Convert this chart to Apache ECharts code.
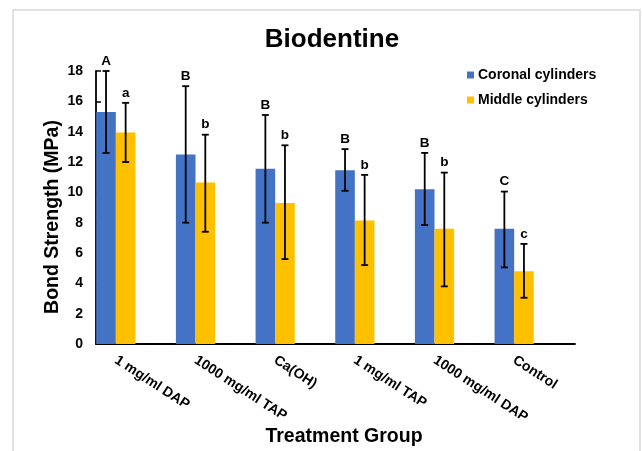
<!DOCTYPE html>
<html>
<head>
<meta charset="utf-8">
<script src="https://cdn.jsdelivr.net/npm/echarts@6/dist/echarts.min.js"></script>
<style>html,body{margin:0;padding:0;background:#fff}#c{width:642px;height:451px}</style>
</head>
<body>
<div id="c"></div>
<script>
var categories = ['1 mg/ml DAP', '1000 mg/ml TAP', 'Ca(OH)', '1 mg/ml TAP', '1000 mg/ml DAP', 'Control'];
var coronal = [15.3, 12.5, 11.55, 11.45, 10.2, 7.6];
var coronalLow = [12.6, 8.0, 8.0, 10.1, 7.85, 5.05];
var coronalHigh = [18.0, 17.0, 15.1, 12.85, 12.6, 10.05];
var coronalLetters = ['A', 'B', 'B', 'B', 'B', 'C'];
var middle = [13.95, 10.65, 9.3, 8.15, 7.6, 4.8];
var middleLow = [12.0, 7.4, 5.6, 5.2, 3.8, 3.05];
var middleHigh = [15.9, 13.8, 13.1, 11.15, 11.3, 6.6];
var middleLetters = ['a', 'b', 'b', 'b', 'b', 'c'];
var yTicks = [0, 2, 4, 6, 8, 10, 12, 14, 16, 18];

var FONT = "'Liberation Sans', Arial, sans-serif";
var BW = 19.6;

function errRows(lo, hi) {
  return lo.map(function (v, i) { return [i, v, hi[i]]; });
}
function errRender(offset, letters) {
  return function (params, api) {
    var i = api.value(0);
    var x = api.coord([i, 0])[0] + offset;
    var yl = api.coord([i, api.value(1)])[1];
    var yh = api.coord([i, api.value(2)])[1];
    var st = { stroke: '#000', lineWidth: 1.8 };
    return {
      type: 'group',
      children: [
        { type: 'line', shape: { x1: x, y1: yh, x2: x, y2: yl }, style: st },
        { type: 'line', shape: { x1: x - 3.5, y1: yh, x2: x + 3.5, y2: yh }, style: st },
        { type: 'line', shape: { x1: x - 3.5, y1: yl, x2: x + 3.5, y2: yl }, style: st },
        { type: 'text', style: { x: x, y: yh - 3, text: letters[params.dataIndex], fill: '#000',
            font: 'bold 13.5px ' + FONT, textAlign: 'center', textVerticalAlign: 'bottom' } }
      ]
    };
  };
}

var chart = echarts.init(document.getElementById('c'));
chart.setOption({
  backgroundColor: '#fff',
  animation: false,
  textStyle: { fontFamily: FONT },
  title: {
    text: 'Biodentine', left: 327, top: 22, textAlign: 'center',
    textStyle: { fontSize: 26, fontWeight: 'bold', color: '#000', fontFamily: FONT }
  },
  legend: {
    data: ['Coronal cylinders', 'Middle cylinders'],
    orient: 'vertical', left: 462, top: 63,
    itemWidth: 7, itemHeight: 7, itemGap: 11, icon: 'rect',
    textStyle: { fontSize: 14, fontWeight: 'bold', color: '#000', fontFamily: FONT, padding: [0, 0, 0, -1] }
  },
  graphic: [
    { type: 'rect', shape: { x: 13, y: 10, width: 627, height: 460 }, style: { fill: 'none', stroke: '#d9d9d9', lineWidth: 1.5 }, z: -10 },
    { type: 'text', x: 53, y: 217, rotation: Math.PI / 2,
      style: { text: 'Bond Strength (MPa)', font: 'bold 19.5px ' + FONT, fill: '#000', textAlign: 'center', textVerticalAlign: 'middle' } },
    { type: 'text', x: 344, y: 437,
      style: { text: 'Treatment Group', font: 'bold 19.5px ' + FONT, fill: '#000', textAlign: 'center', textVerticalAlign: 'middle' } }
  ],
  grid: [
    { left: 96, right: 67, top: 71, bottom: 107 },
    { left: 76, right: 88, top: 71, bottom: 107 }
  ],
  xAxis: [
    { type: 'value', gridIndex: 0, min: 0, max: 1, axisLine: { show: true, lineStyle: { color: '#000', width: 1.8 } },
      axisTick: { show: false }, axisLabel: { show: false }, splitLine: { show: false } },
    { type: 'category', gridIndex: 1, data: categories, axisLine: { show: false }, axisTick: { show: false },
      axisLabel: { rotate: -33, margin: 15, interval: 0, fontSize: 14, fontWeight: 'bold', color: '#000', fontFamily: FONT } }
  ],
  yAxis: [
    { type: 'value', gridIndex: 0, min: 0, max: 18, interval: 2,
      axisLine: { show: true, lineStyle: { color: '#000', width: 1.8 } },
      axisTick: { show: true, inside: true, length: 5, lineStyle: { color: '#000', width: 1.5 } },
      splitLine: { show: false },
      axisLabel: { margin: 13, fontSize: 14, fontWeight: 'bold', color: '#000', fontFamily: FONT,
        formatter: function (v) { return yTicks.indexOf(v) >= 0 ? String(v) : ''; } } },
    { type: 'value', gridIndex: 1, min: 0, max: 18, interval: 2, show: false }
  ],
  series: [
    { name: 'Coronal cylinders', type: 'bar', xAxisIndex: 1, yAxisIndex: 1, data: coronal,
      barWidth: BW, barGap: '0%', itemStyle: { color: '#4472C4' }, z: 2 },
    { name: 'Middle cylinders', type: 'bar', xAxisIndex: 1, yAxisIndex: 1, data: middle,
      barWidth: BW, barGap: '0%', itemStyle: { color: '#FFC000' }, z: 2 },
    { name: 'errC', type: 'custom', xAxisIndex: 1, yAxisIndex: 1, data: errRows(coronalLow, coronalHigh),
      renderItem: errRender(-BW / 2, coronalLetters), z: 5 },
    { name: 'errM', type: 'custom', xAxisIndex: 1, yAxisIndex: 1, data: errRows(middleLow, middleHigh),
      renderItem: errRender(BW / 2, middleLetters), z: 5 }
  ]
});
</script>
</body>
</html>
